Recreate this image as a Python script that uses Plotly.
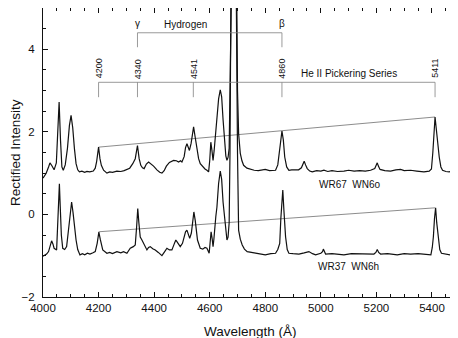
import plotly.graph_objects as go

# ---- data ----
wl_wr67 = [4000, 4011, 4020, 4025, 4032, 4040, 4048, 4053, 4058, 4063, 4068, 4073, 4080, 4088, 4095,
           4101, 4107, 4113, 4119, 4125, 4131, 4140, 4150, 4158, 4168, 4181, 4188, 4193, 4200, 4205,
           4210, 4218, 4230, 4240, 4250, 4266, 4280, 4292, 4302, 4312, 4323, 4332, 4340, 4346, 4352,
           4358, 4364, 4372, 4380, 4390, 4398, 4410, 4420, 4428, 4436, 4444, 4455, 4470, 4480, 4488,
           4495, 4500, 4508, 4513, 4518, 4523, 4527, 4533, 4537, 4542, 4547, 4554, 4560, 4566, 4575,
           4583, 4590, 4596, 4600, 4604, 4608, 4612, 4616, 4620, 4626, 4632, 4638, 4643, 4648, 4653,
           4658, 4662, 4666, 4670, 4673, 4676, 4686, 4697, 4700, 4704, 4710, 4716, 4722, 4734,
           4746, 4760, 4775, 4788, 4800, 4815, 4837, 4845, 4851, 4856, 4860, 4865, 4870, 4877, 4885,
           4895, 4909, 4920, 4930, 4936, 4940, 4945, 4951, 4960, 4969, 4985, 5000, 5011, 5025, 5040,
           5060, 5083, 5100, 5120, 5140, 5160, 5179, 5194, 5200, 5203, 5207, 5213, 5230, 5251, 5270,
           5287, 5300, 5323, 5345, 5371, 5390, 5398, 5403, 5407, 5411, 5415, 5420, 5426, 5432, 5438,
           5450, 5462, 5475, 5490]
flux_wr67 = [0.88, 0.99, 1.15, 1.25, 1.18, 1.08, 1.25, 1.90, 2.72, 1.80, 1.15, 1.07, 1.20, 1.60, 2.15,
             2.40, 2.10, 1.60, 1.23, 1.08, 1.03, 1.05, 1.02, 1.04, 1.03, 1.05, 1.12, 1.28, 1.63, 1.35,
             1.19, 1.07, 1.00, 1.03, 1.02, 1.05, 1.04, 1.06, 1.09, 1.12, 1.23, 1.35, 1.67, 1.35, 1.19,
             1.13, 1.11, 1.22, 1.27, 1.22, 1.17, 1.08, 1.02, 1.00, 1.06, 1.17, 1.26, 1.31, 1.30, 1.27,
             1.30, 1.27, 1.40, 1.62, 1.71, 1.62, 1.55, 1.72, 1.95, 2.12, 1.90, 1.59, 1.35, 1.23, 1.15,
             1.10, 1.07, 1.03, 1.30, 1.75, 1.55, 1.31, 1.55, 1.90, 2.36, 2.80, 3.02, 2.85, 2.30, 1.70,
             1.42, 1.31, 1.38, 1.60, 3.00, 5.50, 9.00, 5.50, 3.00, 1.96, 1.48, 1.30, 1.19, 1.12,
             1.09, 1.07, 1.06, 1.07, 1.09, 1.06, 1.07, 1.20, 1.55, 1.85, 2.02, 1.80, 1.39, 1.15, 1.07,
             1.08, 1.09, 1.08, 1.13, 1.22, 1.29, 1.20, 1.11, 1.05, 1.03, 1.06, 1.05, 1.07, 1.04, 1.06,
             1.04, 1.05, 1.07, 1.05, 1.06, 1.05, 1.07, 1.11, 1.22, 1.25, 1.17, 1.09, 1.06, 1.05, 1.08,
             1.09, 1.06, 1.07, 1.05, 1.03, 1.05, 1.10, 1.50, 2.00, 2.36, 2.10, 1.70, 1.39, 1.15, 1.07,
             1.04, 1.03, 1.06, 1.11]

wl_wr37 = [4000, 4013, 4020, 4026, 4031, 4036, 4040, 4049, 4053, 4056, 4059, 4062, 4066, 4071, 4078,
           4085, 4090, 4095, 4100, 4103, 4108, 4113, 4119, 4125, 4133, 4142, 4150, 4160, 4169, 4180,
           4188, 4195, 4201, 4206, 4211, 4215, 4230, 4240, 4250, 4266, 4280, 4290, 4302, 4308, 4314,
           4325, 4332, 4337, 4341, 4345, 4350, 4356, 4365, 4374, 4380, 4386, 4395, 4404, 4415, 4428,
           4438, 4446, 4455, 4464, 4472, 4478, 4482, 4488, 4494, 4502, 4508, 4513, 4518, 4523, 4528,
           4534, 4538, 4543, 4548, 4552, 4556, 4566, 4575, 4583, 4590, 4598, 4602, 4605, 4609, 4612,
           4615, 4618, 4622, 4626, 4632, 4638, 4643, 4648, 4654, 4658, 4662, 4666, 4670, 4673, 4676,
           4686, 4696, 4700, 4704, 4710, 4717, 4725, 4735, 4750, 4765, 4780, 4800, 4820, 4837,
           4845, 4852, 4856, 4860, 4863, 4867, 4873, 4879, 4885, 4900, 4921, 4940, 4957, 4970, 4981,
           5000, 5006, 5009, 5013, 5017, 5040, 5060, 5083, 5110, 5143, 5170, 5191, 5198, 5203, 5208,
           5215, 5240, 5260, 5275, 5300, 5323, 5350, 5375, 5396, 5401, 5405, 5409, 5413, 5417, 5423,
           5428, 5434, 5450, 5467, 5480, 5490]
flux_wr37 = [-1.01, -0.96, -0.90, -0.75, -0.64, -0.72, -0.82, -0.86, -0.30, 0.30, 0.74, 0.20, -0.50, -0.82, -0.85,
             -0.78, -0.45, -0.05, 0.25, 0.30, 0.05, -0.30, -0.62, -0.85, -0.98, -0.95, -0.98, -0.94, -0.96, -0.93,
             -0.90, -0.70, -0.43, -0.60, -0.80, -0.86, -0.94, -0.92, -0.95, -0.90, -0.93, -0.90, -0.94, -0.88, -0.82,
             -0.78, -0.74, -0.30, 0.14, -0.20, -0.55, -0.62, -0.75, -0.86, -0.80, -0.78, -0.83, -0.86, -0.92, -1.00,
             -0.90, -0.82, -0.86, -0.86, -0.72, -0.62, -0.66, -0.72, -0.78, -0.70, -0.55, -0.42, -0.38, -0.48, -0.58,
             -0.45, -0.20, 0.06, -0.15, -0.45, -0.62, -0.82, -0.84, -0.80, -0.82, -0.94, -0.70, -0.42, -0.60, -0.78,
             -0.60, -0.30, -0.05, 0.18, 0.75, 1.05, 0.85, 0.30, -0.06, -0.40, -0.62, -0.55, -0.20, 1.50, 5.00,
             9.00, 5.00, 1.50, -0.38, -0.60, -0.74, -0.84, -0.90, -0.92, -0.94, -0.96, -0.98, -0.95, -0.94,
             -0.85, -0.70, -0.10, 0.45, 0.59, 0.10, -0.54, -0.85, -0.94, -0.95, -0.96, -0.93, -0.90, -0.95, -0.98,
             -0.94, -0.90, -0.84, -0.92, -0.96, -0.95, -0.97, -0.98, -0.95, -0.96, -0.95, -0.96, -0.92, -0.85, -0.92,
             -0.96, -0.95, -0.97, -0.98, -0.95, -0.96, -0.95, -0.97, -0.98, -0.80, -0.54, -0.10, 0.16, -0.20, -0.62,
             -0.85, -0.94, -0.96, -0.98, -0.95, -0.94]

continuum_wl = [4200, 5411]
continuum_wr67 = [1.63, 2.36]
continuum_wr37 = [-0.42, 0.16]

pickering_wl = [4200, 4340, 4541, 4860, 5411]
pickering_labels = ["4200", "4340", "4541", "4860", "5411"]
hydrogen_wl = [4340, 4860]
hydrogen_labels = ["γ", "β"]

star_labels = ["WR67\u00a0\u00a0WN6o", "WR37\u00a0\u00a0WN6h"]
star_label_pos = [(5105, 0.72), (5098, -1.27)]

x_ticks = [4000, 4200, 4400, 4600, 4800, 5000, 5200, 5400]
y_ticks = [-2, 0, 2, 4]

FONT = "Liberation Sans, Arial, sans-serif"
INK = "#111111"

fig = go.Figure()

# continuum reference lines
for cy in (continuum_wr67, continuum_wr37):
    fig.add_trace(go.Scatter(x=continuum_wl, y=cy, mode="lines",
                             line=dict(color="#6e6e6e", width=0.8), hoverinfo="skip"))

# spectra
for wl, fl in ((wl_wr67, flux_wr67), (wl_wr37, flux_wr37)):
    fig.add_trace(go.Scatter(x=wl, y=fl, mode="lines",
                             line=dict(color=INK, width=1.2), hoverinfo="skip"))

# He II Pickering bracket
pk_y, pk_tick = 3.20, 2.84
bx, by = [pickering_wl[0], pickering_wl[-1], None], [pk_y, pk_y, None]
for w in pickering_wl:
    bx += [w, w, None]
    by += [pk_y, pk_tick, None]
fig.add_trace(go.Scatter(x=bx, y=by, mode="lines", line=dict(color="#808080", width=0.8),
                         hoverinfo="skip"))

# Hydrogen bracket
h_y, h_tick = 4.40, 4.05
hx, hy = [hydrogen_wl[0], hydrogen_wl[-1], None], [h_y, h_y, None]
for w in hydrogen_wl:
    hx += [w, w, None]
    hy += [h_y, h_tick, None]
fig.add_trace(go.Scatter(x=hx, y=hy, mode="lines", line=dict(color="#808080", width=0.8),
                         hoverinfo="skip"))

ann = []
for w, lab in zip(pickering_wl, pickering_labels):
    ann.append(dict(x=w, y=3.53, text=lab, textangle=-90, showarrow=False,
                    font=dict(size=9, color=INK, family=FONT), xref="x", yref="y"))
for w, lab in zip(hydrogen_wl, hydrogen_labels):
    ann.append(dict(x=w, y=4.62, text=lab, showarrow=False,
                    font=dict(size=10, color=INK, family=FONT), xref="x", yref="y"))
ann.append(dict(x=4514, y=4.60, text="Hydrogen", showarrow=False,
                font=dict(size=10, color=INK, family=FONT), xref="x", yref="y"))
ann.append(dict(x=5103, y=3.41, text="He II Pickering Series", showarrow=False,
                font=dict(size=10, color=INK, family=FONT), xref="x", yref="y"))
for lab, (lx, ly) in zip(star_labels, star_label_pos):
    ann.append(dict(x=lx, y=ly, text=lab, showarrow=False,
                    font=dict(size=10, color=INK, family=FONT), xref="x", yref="y"))

# axis titles
ann.append(dict(x=0.5, y=0, xref="paper", yref="paper", yanchor="top", yshift=-25,
                text="Wavelength (Å)", showarrow=False,
                font=dict(size=13.5, color=INK, family=FONT)))
ann.append(dict(x=0, y=0.5, xref="paper", yref="paper", xanchor="right", xshift=-18,
                text="Rectified Intensity", textangle=-90, showarrow=False,
                font=dict(size=13.5, color=INK, family=FONT)))

axis_common = dict(showline=True, linecolor=INK, linewidth=1, mirror="ticks",
                   ticks="inside", ticklen=5, tickcolor=INK, showgrid=False, zeroline=False,
                   automargin=False,
                   tickfont=dict(size=11.5, color=INK, family=FONT))

# the page body adds an 8px offset, so the figure is sized to 450x330
fig.update_layout(
    template="none",
    width=450, height=330,
    margin=dict(l=35, r=1, t=0, b=41),
    paper_bgcolor="white", plot_bgcolor="white",
    showlegend=False,
    annotations=ann,
    xaxis=dict(range=[4000, 5490], tickvals=x_ticks, ticklabelstandoff=0,
               minor=dict(dtick=50, tick0=4000, ticks="inside", ticklen=3, tickcolor=INK),
               **axis_common),
    yaxis=dict(range=[-2, 5], tickvals=y_ticks, ticklabelstandoff=5,
               minor=dict(dtick=0.5, tick0=0, ticks="inside", ticklen=3, tickcolor=INK),
               **axis_common),
)

fig.write_html("out.html")
